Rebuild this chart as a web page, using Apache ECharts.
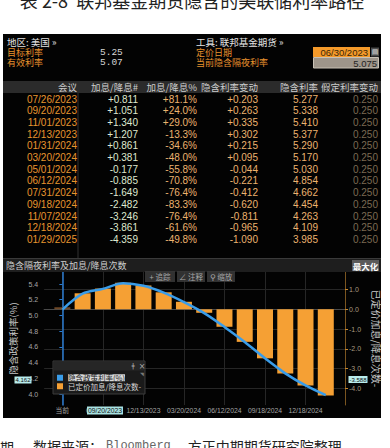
<!DOCTYPE html>
<html>
<head>
<meta charset="utf-8">
<script src="https://cdn.jsdelivr.net/npm/echarts@6/dist/echarts.min.js"></script>
<style>
html, body { margin: 0; padding: 0; background: #fff; }
#main { width: 390px; height: 448px; }
</style>
</head>
<body>
<div id="main"></div>
<script>
// 议息会议
var meetings = ['07/26/2023', '09/20/2023', '11/01/2023', '12/13/2023', '01/31/2024', '03/20/2024', '05/01/2024',
    '06/12/2024', '07/31/2024', '09/18/2024', '11/07/2024', '12/18/2024', '01/29/2025'];
// 加息/降息次数(累计)
var hikes = [0.811, 1.051, 1.340, 1.207, 0.861, 0.381, -0.177, -0.885, -1.649, -2.482, -3.246, -3.861, -4.359];
// 加息/降息%
var hikePct = [81.1, 24.0, 29.0, -13.3, -34.6, -48.0, -55.8, -70.8, -76.4, -83.3, -76.4, -61.6, -49.8];
// 隐含利率变动
var rateMove = [0.203, 0.263, 0.335, 0.302, 0.215, 0.095, -0.044, -0.221, -0.412, -0.620, -0.811, -0.965, -1.090];
// 隐含利率
var impliedRate = [5.277, 5.338, 5.410, 5.377, 5.290, 5.170, 5.030, 4.854, 4.662, 4.454, 4.263, 4.109, 3.985];
// 假定利率变动
var assumedMove = [0.25, 0.25, 0.25, 0.25, 0.25, 0.25, 0.25, 0.25, 0.25, 0.25, 0.25, 0.25, 0.25];

var targetRate = '5.25';
var effectiveRate = '5.07';
var pricingDate = '06/30/2023';
var currentRate = 5.075;

var xLabels = ['当前'].concat(meetings);
var xTickIdx = [0, 2, 4, 6, 8, 10, 12];
var leftTicks = [4.0, 4.2, 4.4, 4.6, 4.8, 5.0, 5.2, 5.4];
var rightTicks = [-4, -3, -2, -1, 0, 1];

var CJK = '"Noto Sans CJK SC", sans-serif';
var NUM = '"Liberation Sans", "Noto Sans CJK SC", sans-serif';
var ORANGE = '#f5a034';

function sign(v, d) {
    return (v > 0 ? '+' : '') + v.toFixed(d);
}

function txt(text, x, y, color, size, align, family, extra) {
    return {
        type: 'text', x: x, y: y, silent: true, z: 50,
        style: Object.assign({
            text: text, fill: color, fontSize: size, fontFamily: family || CJK,
            lineHeight: Math.round(size), align: align || 'left', verticalAlign: 'middle'
        }, extra || {})
    };
}

function box(x, y, w, h, fill, stroke, z) {
    return {
        type: 'rect', silent: true, z: z == null ? 40 : z,
        shape: { x: x, y: y, width: w, height: h },
        style: { fill: fill, stroke: stroke || null, lineWidth: 1 }
    };
}

function line(x1, y1, x2, y2, color) {
    return {
        type: 'line', silent: true, z: 41,
        shape: { x1: x1, y1: y1, x2: x2, y2: y2 },
        style: { stroke: color, lineWidth: 1 }
    };
}

var g = [];
// 黑色面板
g.push(box(3, 34, 378, 384, '#030303', null, -10));
// 标题/来源
g.push(txt('表 2-8  联邦基金期货隐含的美联储利率路径', 192, 0, '#222', 18, 'center'));
g.push(txt('期', 0, 447, '#222', 14, 'left'));
g.push({
    type: 'text', x: 33, y: 446, silent: true, z: 50,
    style: {
        text: '数据来源：{m|Bloomberg}、方正中期期货研究院整理', fill: '#222', fontSize: 14, fontFamily: CJK,
        verticalAlign: 'middle',
        rich: { m: { fontFamily: '"Liberation Mono", monospace', fontSize: 12, fill: '#666', padding: [0, 3, 0, 3] } }
    }
});

// 顶部信息
g.push(txt('地区: 美国 »', 7, 41.5, '#e4e4e4', 9.5));
g.push(txt('工具: 联邦基金期货 »', 196, 41.5, '#e4e4e4', 9.5));
g.push(txt('目标利率', 7, 52.3, '#e8922e', 9));
g.push(txt('有效利率', 7, 62.5, '#e8922e', 9));
g.push(txt(targetRate, 100, 52.3, '#d6d6d6', 9.5, 'left', '"Liberation Mono", monospace'));
g.push(txt(effectiveRate, 100, 62.5, '#d6d6d6', 9.5, 'left', '"Liberation Mono", monospace'));
g.push(txt('定价日期', 196, 52.3, '#e8922e', 9));
g.push(txt('当前隐含隔夜利率', 196, 62.5, '#e8922e', 9));
g.push(box(313, 47, 57, 10, '#f59a2a'));
g.push(txt(pricingDate, 368, 52.2, '#3a2608', 9.5, 'right', NUM));
g.push(box(371, 47.5, 8, 9, '#4a4a4a'));
g.push(txt('▤', 375, 52, '#ddd', 7, 'center', '"DejaVu Sans"'));
g.push(box(313.5, 57.5, 65, 10.5, '#9e958a', '#c9c1b5'));
g.push(txt(currentRate.toFixed(3), 377, 63, '#242424', 9.5, 'right', NUM));

// 表格
var colX = [77, 138, 197, 258, 318, 378];
var headers = ['会议', '加息/降息#', '加息/降息%', '隐含利率变动', '隐含利率', '假定利率变动'];
g.push(box(3, 81, 378, 12, '#2b2b2b'));
headers.forEach(function (h, k) {
    g.push(txt(h, colX[k], 87, '#cdcdcd', 9.5, 'right'));
});
g.push(line(78, 93, 78, 258, '#333'));
g.push(line(3, 258.5, 381, 258.5, '#3a3a3a'));
var colColors = ['#e8952f', '#dfe8cf', '#ecb36f', '#ecb36f', '#ecb36f', '#7c6a52'];
for (var i = 0; i < meetings.length; i++) {
    var y = 99 + 11.7 * i;
    var cells = [meetings[i], sign(hikes[i], 3), sign(hikePct[i], 1) + '%', sign(rateMove[i], 3),
        impliedRate[i].toFixed(3), assumedMove[i].toFixed(3)];
    for (var k = 0; k < cells.length; k++) {
        g.push(txt(cells[k], colX[k], y, colColors[k], 10, 'right', NUM));
    }
}

// 图表标题栏
g.push(box(3, 259, 378, 13, '#1e1e1e'));
g.push(txt('隐含隔夜利率及加息/降息次数', 6, 265.5, '#cfcfcf', 9));
g.push(box(352, 260, 27, 11, '#5a5a5a'));
g.push(txt('最大化', 365.5, 265.5, '#fff', 8.5, 'center', CJK, { fontWeight: 'bold' }));
// 工具条
g.push(box(145, 271, 30, 11, 'rgba(58,58,58,0.85)'));
g.push(box(177, 271, 28, 11, 'rgba(58,58,58,0.85)'));
g.push(box(207, 271, 28, 11, 'rgba(58,58,58,0.85)'));
g.push(txt('+ 追踪', 160, 276.5, '#a8a8a8', 7.5, 'center'));
g.push(txt('∠ 注释', 191, 276.5, '#a8a8a8', 7.5, 'center'));
g.push(txt('⚲ 缩放', 221, 276.5, '#a8a8a8', 7.5, 'center'));

// 图例面板
g.push(box(53, 361, 92, 33, '#1a1a1a', '#3c3c3c'));
g.push(box(53.5, 361.5, 91, 9, '#262626'));
g.push(txt('ǂ', 133, 366, '#aaa', 7, 'center', '"DejaVu Sans"'));
g.push(txt('×', 142, 366, '#aaa', 8, 'center', '"DejaVu Sans"'));
g.push(txt('◥', 142, 373.5, '#777', 5, 'center', '"DejaVu Sans"'));

// 十字光标标签
var tag = { backgroundColor: '#b9ecec', padding: [1, 1, 0, 1] };
g.push(txt('4.162', 23, 380, '#111', 6, 'center', NUM, tag));
g.push(txt('-3.588', 358, 379.5, '#111', 6, 'center', NUM, tag));
g.push(txt('09/20/2023', 105, 410.5, '#111', 6.8, 'center', NUM, { backgroundColor: '#a9e2e2', padding: [1, 1, 0, 1] }));

var rateData = [[0, currentRate]];
var barData = [{ value: [0, 0], itemStyle: { color: '#6e4726' } }];
for (var j = 0; j < meetings.length; j++) {
    rateData.push([j + 1, impliedRate[j]]);
    barData.push([j + 1, hikes[j]]);
}

var chart = echarts.init(document.getElementById('main'), null, { renderer: 'svg' });
var option = {
    animation: false,
    backgroundColor: '#fff',
    graphic: { elements: g },
    grid: { left: 31, right: 39, top: 272, bottom: 43 },
    legend: {
        orient: 'vertical', left: 57, top: 374, padding: 0, z: 60,
        itemWidth: 6, itemHeight: 6, itemGap: 1, icon: 'rect',
        textStyle: { color: '#d8d8d8', fontSize: 7.5, lineHeight: 7, fontFamily: CJK },
        data: [
            { name: '隐含政策利率(%)', textStyle: { backgroundColor: '#d9d9d9', color: '#202020' } },
            { name: '已定价加息/降息次数-' }
        ]
    },
    xAxis: {
        type: 'value', min: -0.9, max: 13.95,
        axisLine: { lineStyle: { color: '#4a4a4a' } },
        axisTick: { show: false, customValues: xTickIdx },
        axisLabel: {
            customValues: xTickIdx, color: '#a4a4a4', fontSize: 6.8, fontFamily: NUM, margin: 2,
            formatter: function (v) { return xLabels[Math.round(v)] || ''; }
        },
        splitLine: { show: true, lineStyle: { color: '#262626' } }
    },
    yAxis: [{
        type: 'value', position: 'left', min: 3.86, max: 5.553,
        name: '隐含政策利率(%)', nameLocation: 'middle', nameGap: 16,
        nameTextStyle: { color: '#c6c6c6', fontSize: 9.5, fontFamily: CJK },
        axisLine: { show: true, lineStyle: { color: '#2b7bd0', width: 1.5 } },
        axisTick: { show: true, length: 3, customValues: leftTicks, lineStyle: { color: '#2b7bd0' } },
        axisLabel: {
            customValues: leftTicks, color: '#a6a6a6', fontSize: 7, fontFamily: NUM, margin: 6,
            formatter: function (v) { return v.toFixed(1); }
        },
        splitLine: { show: false }
    }, {
        type: 'value', position: 'right', min: -4.846, max: 1.889,
        name: '已定价加息/降息次数-', nameLocation: 'middle', nameGap: 19, nameRotate: -90,
        nameTextStyle: { color: '#c6c6c6', fontSize: 10, fontFamily: CJK },
        axisLine: { show: true, lineStyle: { color: '#7a5520' } },
        axisTick: { show: true, length: 3, customValues: rightTicks, lineStyle: { color: '#c8862a' } },
        axisLabel: {
            customValues: rightTicks, color: '#a89a80', fontSize: 7, fontFamily: NUM, margin: 4,
            formatter: function (v) { return v.toFixed(1); }
        },
        splitLine: { show: true, lineStyle: { color: '#262626' } }
    }],
    series: [{
        name: '已定价加息/降息次数-', type: 'bar', yAxisIndex: 1,
        barWidth: 16, barMinHeight: 2,
        itemStyle: { color: ORANGE },
        data: barData
    }, {
        name: '隐含政策利率(%)', type: 'line', yAxisIndex: 0, z: 5,
        symbol: 'none', smooth: 0.3,
        lineStyle: { color: '#3a9ce8', width: 2.5 },
        itemStyle: { color: '#3a9ce8' },
        data: rateData
    }]
};
chart.setOption(option);
</script>
</body>
</html>
